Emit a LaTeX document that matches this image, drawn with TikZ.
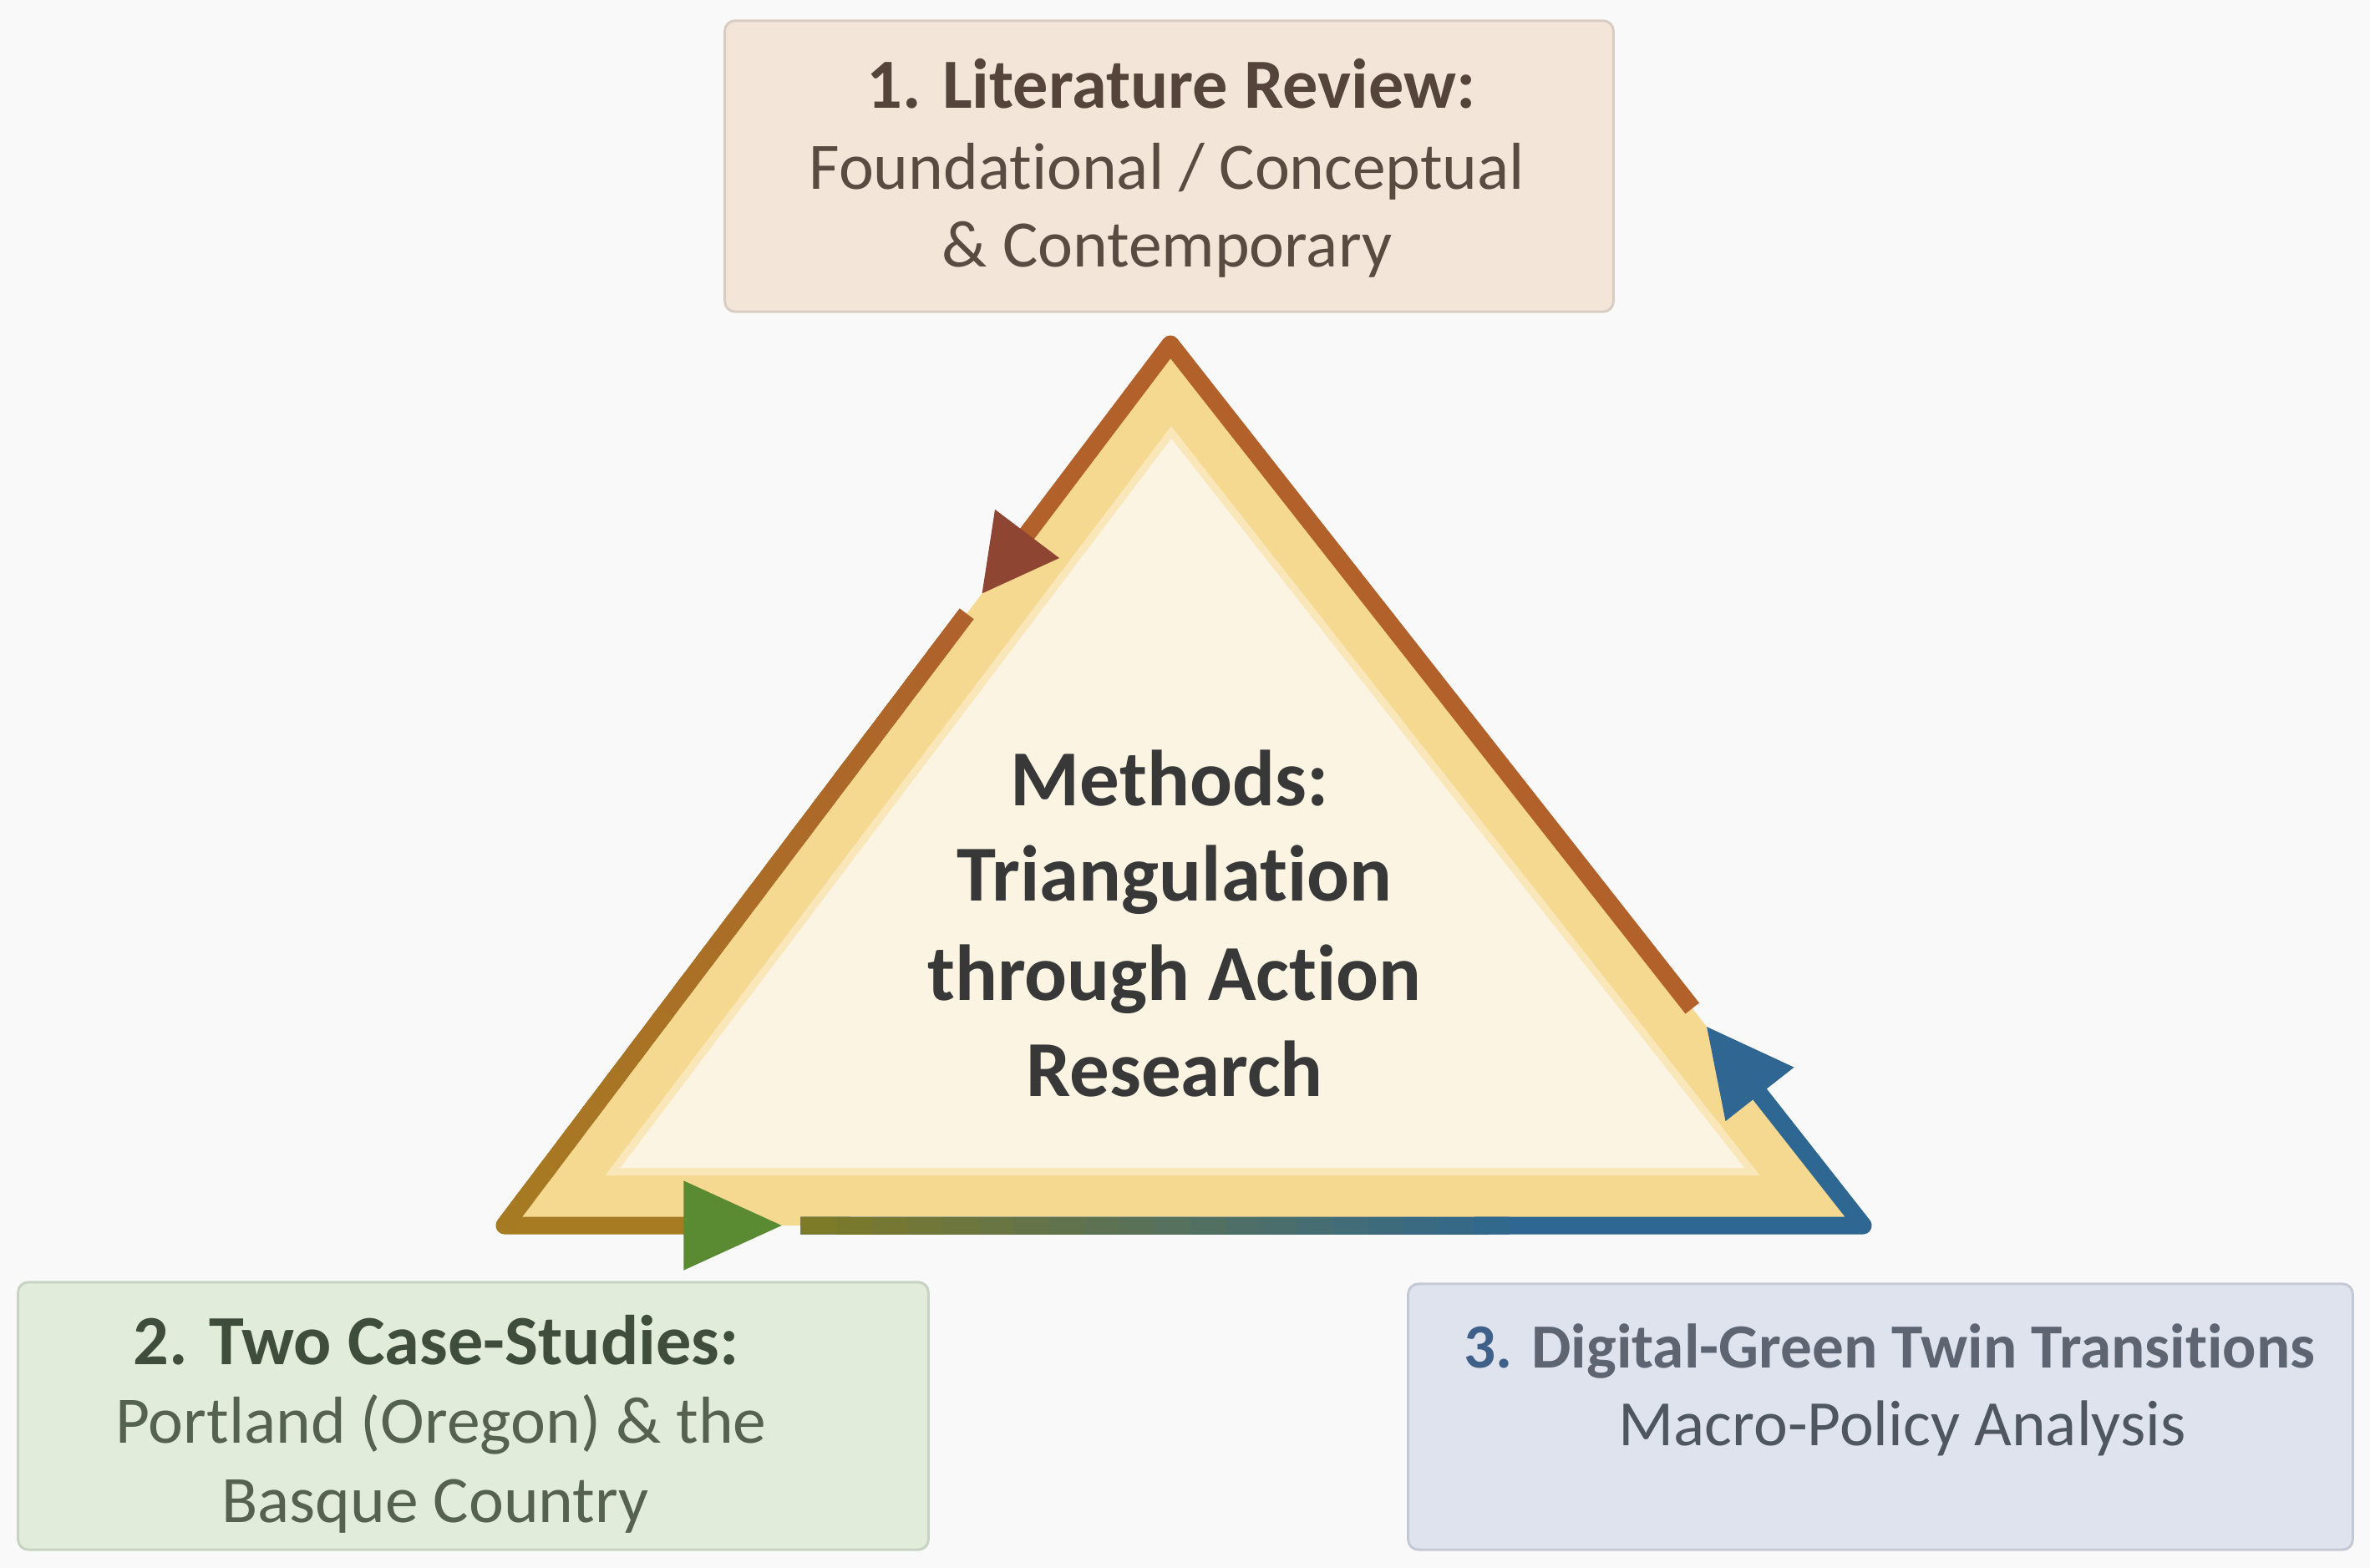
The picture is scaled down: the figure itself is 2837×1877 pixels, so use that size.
\documentclass[tikz,border=0pt]{standalone}
\usepackage{fontspec}
\setmainfont{Carlito}[Ligatures=NoCommon]
\usetikzlibrary{arrows.meta,calc}
\definecolor{bg}{HTML}{FAF9FA}
\definecolor{litfill}{HTML}{F3E6D9}
\definecolor{litdraw}{HTML}{D9CDC3}
\definecolor{littitle}{HTML}{54443A}
\definecolor{littext}{HTML}{5A4B40}
\definecolor{casefill}{HTML}{E1ECDB}
\definecolor{casedraw}{HTML}{C8D4C3}
\definecolor{casetitle}{HTML}{3F4D3C}
\definecolor{casetext}{HTML}{55624F}
\definecolor{digfill}{HTML}{DEE3ED}
\definecolor{digdraw}{HTML}{C3C9D5}
\definecolor{digtitle}{HTML}{5E6571}
\definecolor{dignum}{HTML}{3F6089}
\definecolor{digtext}{HTML}{50565F}
\definecolor{methtext}{HTML}{383838}
\definecolor{triyellow}{HTML}{F6D991}
\definecolor{trisoft}{HTML}{F9E7B9}
\definecolor{tricream}{HTML}{FBF4E3}
\definecolor{brownline}{HTML}{B3612A}
\definecolor{brownhead}{HTML}{8E4532}
\definecolor{segtop}{HTML}{AF622B}
\definecolor{golden}{HTML}{A67B22}
\definecolor{greenhead}{HTML}{5A8A32}
\definecolor{olive}{HTML}{7D7A28}
\definecolor{blueline}{HTML}{2E6791}
\definecolor{bluehead}{HTML}{2F6792}
\tikzset{
  boxshape/.style={rounded corners=0.12cm, line width=0.03cm, inner sep=0pt},
  titletext/.style={inner sep=0pt, anchor=base, font=\fontsize{24pt}{27pt}\selectfont\bfseries},
  subtext/.style={inner sep=0pt, anchor=base, font=\fontsize{22.6pt}{27pt}\selectfont},
  methtextstyle/.style={inner sep=0pt, anchor=base, text=methtext, font=\fontsize{27pt}{33pt}\selectfont\bfseries},
  tristroke/.style={line width=0.21cm, line join=round}
}
\begin{document}
\begin{tikzpicture}[x=0.01cm,y=-0.01cm]
\fill[bg] (0,0) rectangle (2837,1877);
\useasboundingbox (0,0) rectangle (2837,1877);

% boxes
\node[boxshape, draw=litdraw, fill=litfill, minimum width=10.63cm, minimum height=3.48cm] (lit) at (1399.5,199) {};
\node[boxshape, draw=casedraw, fill=casefill, minimum width=10.89cm, minimum height=3.20cm] (case) at (566.5,1695) {};
\node[boxshape, draw=digdraw, fill=digfill, minimum width=11.30cm, minimum height=3.18cm] (dig) at (2251,1696) {};

% box texts
\node[titletext, text=littitle] (lit1) at (1402,130) {1. Literature Review:};
\node[subtext, text=littext] (lit2) at (1397,227) {Foundational / Conceptual};
\node[subtext, text=littext] (lit3) at (1397,320) {\& Contemporary};

\node[titletext, text=casetitle] (case1) at (522,1633) {2. Two Case-Studies:};
\node[subtext, text=casetext] (case2) at (528,1727) {Portland (Oregon) \& the};
\node[subtext, text=casetext] (case3) at (521,1822) {Basque Country};

\node[titletext, text=digtitle, font=\fontsize{21.4pt}{27pt}\selectfont\bfseries] (dig1) at (2262,1637) {{\color{dignum}3.} Digital-Green Twin Transitions};
\node[subtext, text=digtext, font=\fontsize{22pt}{27pt}\selectfont] (dig2) at (2277,1730) {Macro-Policy Analysis};

% triangle
\coordinate (A) at (1401,412);
\coordinate (L) at (604,1467);
\coordinate (R) at (2230,1467);
\coordinate (I) at (1407.2,1067.1);
\fill[triyellow] (A) -- (L) -- (R) -- cycle;
\fill[trisoft] ($(I)!0.85!(A)$) -- ($(I)!0.85!(L)$) -- ($(I)!0.85!(R)$) -- cycle;
\fill[tricream] ($(I)!0.8275!(A)$) -- ($(I)!0.8275!(L)$) -- ($(I)!0.8275!(R)$) -- cycle;

\coordinate (S1) at ($(R)!0.2464!(A)$);
\coordinate (T1) at ($(A)!0.284!(L)$);
\coordinate (S2) at ($(A)!0.306!(L)$);
\coordinate (T2) at ($(L)!0.205!(R)$);
\coordinate (S3) at ($(L)!0.218!(R)$);
\coordinate (T3) at ($(R)!0.2265!(A)$);
\coordinate (M3) at ($(L)!0.74!(R)$);

% segment 1 (brown)
\draw[tristroke, brownline, -{Triangle[length=0.91cm,width=0.90cm,color=brownhead]}] (S1) -- (A) -- (T1);
% segment 2 (golden, green head)
\draw[tristroke, golden, -{Triangle[length=1.19cm,width=1.01cm,color=greenhead]}] (S2) -- (L) -- (T2);
\foreach \i in {0,...,19}{
  \pgfmathsetmacro\pa{\i/20}
  \pgfmathsetmacro\pb{min((\i+1.4)/20,1)}
  \pgfmathtruncatemacro\pc{100-5*\i}
  \draw[line width=0.21cm, color=segtop!\pc!golden] ($(S2)!\pa!(L)$) -- ($(S2)!\pb!(L)$);
}
% segment 3 (olive to blue, blue head)
\draw[tristroke, blueline, -{Triangle[length=1.04cm,width=0.98cm,color=bluehead]}] (S3) -- (R) -- (T3);
\foreach \i in {0,...,19}{
  \pgfmathsetmacro\pa{\i/20}
  \pgfmathsetmacro\pb{min((\i+1.4)/20,1)}
  \pgfmathtruncatemacro\pc{100-5*\i}
  \draw[line width=0.21cm, color=olive!\pc!blueline] ($(S3)!\pa!(M3)$) -- ($(S3)!\pb!(M3)$);
}

% central text
\node[methtextstyle] (m1) at (1400,965) {Methods:};
\node[methtextstyle] (m2) at (1406,1078) {Triangulation};
\node[methtextstyle] (m3) at (1406,1197) {through Action};
\node[methtextstyle] (m4) at (1406,1312) {Research};
\end{tikzpicture}
\end{document}
